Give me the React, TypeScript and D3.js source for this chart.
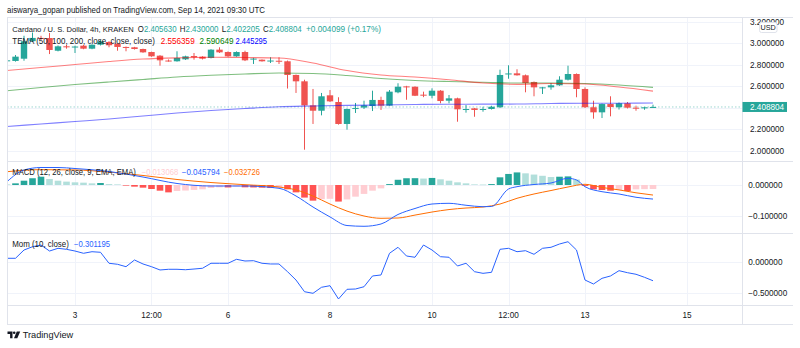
import React from 'react';
import * as d3 from 'd3';

// ---------- DATA ----------
const START_INDEX = -2; // first candle = Sep 1 16:00, index 0 = Sep 2 00:00 (4h candles)

const opens = [2.840, 2.836, 2.857, 3.020, 3.050, 3.049, 2.931, 2.972, 2.966, 2.978, 2.950, 2.987, 3.012, 2.997, 2.966, 2.963, 2.947, 2.919, 2.885, 2.840, 2.833, 2.851, 2.882, 2.876, 2.864, 2.941, 2.919, 2.879, 2.919, 2.855, 2.848, 2.837, 2.838, 2.833, 2.706, 2.647, 2.424, 2.374, 2.517, 2.455, 2.251, 2.396, 2.403, 2.418, 2.474, 2.421, 2.545, 2.600, 2.597, 2.523, 2.513, 2.560, 2.467, 2.489, 2.387, 2.396, 2.388, 2.390, 2.406, 2.715, 2.721, 2.703, 2.641, 2.588, 2.591, 2.610, 2.662, 2.715, 2.576, 2.406, 2.359, 2.436, 2.406, 2.443, 2.402, 2.396, 2.40563];
const highs = [2.910, 2.891, 3.070, 3.100, 3.070, 3.096, 2.980, 2.985, 2.978, 2.985, 2.990, 3.030, 3.020, 3.000, 2.970, 2.967, 2.950, 2.922, 2.890, 2.850, 2.926, 2.885, 2.910, 2.880, 2.945, 2.963, 2.925, 2.925, 2.931, 2.865, 2.850, 2.870, 2.870, 2.840, 2.710, 2.662, 2.576, 2.539, 2.566, 2.499, 2.395, 2.446, 2.467, 2.560, 2.504, 2.566, 2.629, 2.605, 2.600, 2.551, 2.582, 2.565, 2.520, 2.495, 2.427, 2.400, 2.411, 2.420, 2.755, 2.796, 2.759, 2.710, 2.645, 2.595, 2.631, 2.694, 2.792, 2.720, 2.591, 2.467, 2.440, 2.508, 2.450, 2.455, 2.421, 2.410, 2.43];
const lows = [2.835, 2.830, 2.838, 3.010, 3.030, 2.900, 2.925, 2.950, 2.910, 2.945, 2.945, 2.980, 2.963, 2.931, 2.926, 2.942, 2.912, 2.875, 2.792, 2.830, 2.830, 2.845, 2.848, 2.850, 2.860, 2.910, 2.875, 2.875, 2.835, 2.808, 2.830, 2.817, 2.808, 2.580, 2.539, 2.012, 2.251, 2.331, 2.455, 2.245, 2.198, 2.353, 2.390, 2.371, 2.381, 2.420, 2.536, 2.476, 2.510, 2.500, 2.489, 2.443, 2.443, 2.272, 2.356, 2.318, 2.365, 2.385, 2.400, 2.671, 2.700, 2.545, 2.508, 2.529, 2.569, 2.605, 2.655, 2.499, 2.400, 2.300, 2.306, 2.322, 2.385, 2.395, 2.374, 2.383, 2.402205];
const closes = [2.842, 2.876, 3.019, 3.050, 3.045, 2.938, 2.972, 2.963, 2.970, 2.950, 2.987, 3.018, 2.982, 2.966, 2.960, 2.947, 2.916, 2.879, 2.842, 2.836, 2.864, 2.879, 2.870, 2.857, 2.941, 2.916, 2.879, 2.919, 2.842, 2.858, 2.833, 2.840, 2.834, 2.706, 2.647, 2.424, 2.374, 2.508, 2.461, 2.251, 2.390, 2.399, 2.424, 2.474, 2.421, 2.551, 2.597, 2.597, 2.513, 2.518, 2.560, 2.464, 2.489, 2.387, 2.390, 2.381, 2.390, 2.411, 2.706, 2.720, 2.703, 2.631, 2.591, 2.591, 2.610, 2.662, 2.715, 2.576, 2.406, 2.359, 2.436, 2.408, 2.443, 2.402, 2.399, 2.406, 2.408804];

const temaIdx = [-2, 2, 6, 10, 14, 18, 22, 26, 30, 34, 38, 42, 46, 50, 54, 58, 62, 66, 70, 74];
const tema50 = [2.748, 2.775, 2.803, 2.831, 2.854, 2.865, 2.870, 2.868, 2.864, 2.817, 2.747, 2.706, 2.687, 2.662, 2.631, 2.619, 2.627, 2.622, 2.594, 2.556359];
const tema100 = [2.559, 2.590, 2.617, 2.641, 2.664, 2.687, 2.703, 2.715, 2.724, 2.720, 2.701, 2.673, 2.655, 2.645, 2.638, 2.631, 2.631, 2.627, 2.613, 2.590649];
const tema200 = [2.2275, 2.2507, 2.274, 2.297, 2.325, 2.353, 2.376, 2.395, 2.411, 2.418, 2.424, 2.427, 2.432, 2.434, 2.435, 2.436, 2.441, 2.443, 2.444, 2.445295];

const macdIdx = [-2, 0, 2, 4, 6, 10, 14, 18, 22, 26, 30, 32, 34, 36, 38, 40, 42, 44, 46, 48, 50, 52, 54, 55, 57, 58, 60, 62, 64, 65, 66, 68, 70, 72, 74];
const macdLine = [0.0108, 0.0489, 0.057, 0.057, 0.0537, 0.044, 0.026, 0.0049, -0.0033, -0.0033, -0.0107, -0.0358, -0.0717, -0.104, -0.132, -0.1345, -0.127, -0.096, -0.0765, -0.0619, -0.0596, -0.066, -0.0707, -0.070, -0.013, -0.0055, 0.0016, 0.0065, 0.0218, 0.0163, -0.0055, -0.0218, -0.0293, -0.040, -0.045794];
const signalIdx = [-2, 2, 6, 10, 14, 18, 22, 26, 30, 32, 34, 36, 38, 40, 42, 44, 46, 48, 50, 52, 54, 56, 58, 60, 62, 64, 66, 68, 70, 72, 74];
const signalLine = [0.0433, 0.050, 0.049, 0.042, 0.031, 0.018, 0.008, 0.001, -0.0065, -0.016, -0.036, -0.062, -0.085, -0.101, -0.1085, -0.1075, -0.098, -0.088, -0.080, -0.075, -0.0717, -0.062, -0.0433, -0.0293, -0.018, -0.0065, 0.0023, -0.008, -0.016, -0.0254, -0.032726];
const histValues = [0.002, 0.0054, 0.014, 0.022, 0.027, 0.0196, 0.014, 0.011, 0.0087, 0.0076, 0.0054, 0.0065, 0.003, 0.002, -0.001, -0.0054, -0.0087, -0.013, -0.0185, -0.024, -0.0196, -0.018, -0.016, -0.014, -0.0098, -0.0076, -0.008, -0.0054, -0.0076, -0.008, -0.0087, -0.0098, -0.009, -0.014, -0.024, -0.041, -0.051, -0.046, -0.045, -0.054, -0.047, -0.038, -0.029, -0.0185, -0.011, 0.003, 0.017, 0.022, 0.0222, 0.021, 0.023, 0.0185, 0.014, 0.0087, 0.0054, 0.002, 0.0015, 0.003, 0.025, 0.036, 0.041, 0.038, 0.034, 0.030, 0.026, 0.027, 0.028, 0.018, -0.003, -0.0142, -0.0163, -0.0185, -0.0163, -0.0196, -0.0142, -0.0135, -0.013068];
const momValues = [0.054, 0.054, 0.185, 0.237, 0.264, 0.169, 0.212, 0.196, 0.169, 0.133, 0.158, 0.149, -0.025, -0.041, -0.079, 0.027, -0.036, -0.079, -0.131, -0.120, -0.120, -0.127, -0.116, -0.104, -0.025, -0.025, -0.025, 0.038, 0.011, 0.016, -0.025, -0.036, -0.036, -0.158, -0.290, -0.475, -0.500, -0.405, -0.380, -0.590, -0.437, -0.432, -0.396, -0.226, -0.210, 0.133, 0.228, 0.090, 0.070, 0.264, 0.185, 0.079, 0.070, -0.068, -0.025, -0.158, -0.184, -0.168, 0.196, 0.212, 0.158, 0.174, 0.117, 0.212, 0.228, 0.280, 0.316, 0.185, -0.290, -0.353, -0.263, -0.226, -0.142, -0.174, -0.199, -0.247, -0.301195];

const timeTickIdx = [6, 15, 24, 36, 48, 57, 66, 78];
const timeTickLabels = ['3', '12:00', '6', '8', '10', '12:00', '13', '15'];
const priceTicks = [3.2, 3.0, 2.8, 2.6, 2.4, 2.2, 2.0];
const macdTicks = [0, -0.1];
const momTicks = [0, -0.5];
const lastPrice = 2.408804;

// ---------- LAYOUT ----------
const W = 800, H = 348;
const L = 7, R = 742.5, RIGHT_EDGE = 793;
const MAIN = { top: 17, bottom: 161.5 };
const MACDP = { top: 162, bottom: 233.5 };
const MOMP = { top: 234, bottom: 305.5 };
const AXIS_BOTTOM = 324.5;

const FONT = '"Liberation Sans", Arial, sans-serif';
const TXT = '#131722';
const GRID = '#f0f3fa';
const BORDER = '#e0e3eb';
const UP = '#26a69a';
const DOWN = '#ef5350';

const fmt6 = (v: number) => (v < 0 ? '\u2212' : '') + Math.abs(v).toFixed(6);

const Fit = ({ x, y, w, fill, size, children }: { x: number; y: number; w: number; fill: string; size?: number; children: React.ReactNode }) => (
  <text x={x} y={y} fill={fill} fontSize={size} textLength={w} lengthAdjust="spacingAndGlyphs">{children}</text>
);

export default function App() {
  const x = d3.scaleLinear().domain([-2, 78]).range([7, 687]);
  const yMain = d3.scaleLinear().domain([2.0, 3.0]).range([151, 43.3]);
  const yMacd = d3.scaleLinear().domain([-0.1, 0]).range([215.7, 185]);
  const yMom = d3.scaleLinear().domain([-0.5, 0]).range([293.3, 261.7]);

  const smooth = (idx: number[], vals: number[], y: d3.ScaleLinear<number, number>) =>
    d3.line<number>().x((_, k) => x(idx[k])).y((v) => y(v)).curve(d3.curveMonotoneX)(vals) || '';

  const momPath = d3.line<number>().x((_, k) => x(k + START_INDEX)).y((v) => yMom(v))(momValues) || '';

  const histColor = (k: number) => {
    const v = histValues[k];
    const prev = k > 0 ? histValues[k - 1] : v;
    if (v >= 0) return prev < v ? '#26A69A' : '#B2DFDB';
    return prev < v ? '#FFCDD2' : '#FF5252';
  };

  const vGrid = timeTickIdx.map((i) => Math.round(x(i)) + 0.5);

  return (
    <svg width={W} height={H} style={{ position: 'absolute', left: 0, top: 0, background: '#fff' }} fontFamily={FONT}>
      <defs>
        <clipPath id="cMain"><rect x={L} y={MAIN.top} width={R - L} height={MAIN.bottom - MAIN.top} /></clipPath>
        <clipPath id="cMacd"><rect x={L} y={MACDP.top} width={R - L} height={MACDP.bottom - MACDP.top} /></clipPath>
        <clipPath id="cMom"><rect x={L} y={MOMP.top} width={R - L} height={MOMP.bottom - MOMP.top} /></clipPath>
      </defs>
      <rect x={0} y={0} width={W} height={H} fill="#fff" />

      {/* title */}
      <text x={7} y={13} fontSize={8.4} fill={TXT} textLength={258} lengthAdjust="spacingAndGlyphs">aiswarya_gopan published on TradingView.com, Sep 14, 2021 09:30 UTC</text>

      {/* grid */}
      <g stroke={GRID} strokeWidth={1}>
        {vGrid.map((gx, k) => (
          <line key={'vg' + k} x1={gx} x2={gx} y1={MAIN.top} y2={MOMP.bottom} />
        ))}
        {priceTicks.map((p) => (
          <line key={'pg' + p} x1={L} x2={R} y1={Math.round(yMain(p)) + 0.5} y2={Math.round(yMain(p)) + 0.5} />
        ))}
        {macdTicks.map((p) => (
          <line key={'mg' + p} x1={L} x2={R} y1={Math.round(yMacd(p)) + 0.5} y2={Math.round(yMacd(p)) + 0.5} />
        ))}
        {momTicks.map((p) => (
          <line key={'og' + p} x1={L} x2={R} y1={Math.round(yMom(p)) + 0.5} y2={Math.round(yMom(p)) + 0.5} />
        ))}
      </g>

      {/* main pane */}
      <g clipPath="url(#cMain)">
        <line x1={L} x2={R} y1={yMain(lastPrice)} y2={yMain(lastPrice)} stroke={UP} strokeOpacity={0.45} strokeDasharray="1.5,2" />
        {opens.map((o, k) => {
          const i = k + START_INDEX;
          const c = closes[k];
          const col = c >= o ? UP : DOWN;
          const cx = x(i);
          const yo = yMain(o), yc = yMain(c);
          const top = Math.min(yo, yc);
          const h = Math.max(1, Math.abs(yo - yc));
          return (
            <g key={'c' + k}>
              <line x1={cx} x2={cx} y1={yMain(highs[k])} y2={yMain(lows[k])} stroke={col} strokeWidth={1} />
              <rect x={cx - 3.2} y={top} width={6.4} height={h} fill={col} />
            </g>
          );
        })}
        <path d={smooth(temaIdx, tema200, yMain)} fill="none" stroke="#0000FF" strokeOpacity={0.5} strokeWidth={1.1} />
        <path d={smooth(temaIdx, tema100, yMain)} fill="none" stroke="#008000" strokeOpacity={0.5} strokeWidth={1.1} />
        <path d={smooth(temaIdx, tema50, yMain)} fill="none" stroke="#FF0000" strokeOpacity={0.5} strokeWidth={1.1} />
      </g>

      {/* MACD pane */}
      <g clipPath="url(#cMacd)">
        {histValues.map((v, k) => {
          const i = k + START_INDEX;
          const y0 = yMacd(0), y1 = yMacd(v);
          return <rect key={'h' + k} x={x(i) - 3.3} y={Math.min(y0, y1)} width={6.6} height={Math.max(0.6, Math.abs(y1 - y0))} fill={histColor(k)} />;
        })}
        <path d={smooth(signalIdx, signalLine, yMacd)} fill="none" stroke="#FF6D00" strokeWidth={1} />
        <path d={smooth(macdIdx, macdLine, yMacd)} fill="none" stroke="#2962FF" strokeWidth={1} />
      </g>

      {/* Mom pane */}
      <g clipPath="url(#cMom)">
        <path d={momPath} fill="none" stroke="#2962FF" strokeWidth={1} />
      </g>

      {/* frame and separators */}
      <g stroke={BORDER} strokeWidth={1} fill="none">
        <line x1={L} x2={RIGHT_EDGE} y1={17.5} y2={17.5} />
        <line x1={L + 0.5} x2={L + 0.5} y1={17} y2={AXIS_BOTTOM} />
        <line x1={R} x2={R} y1={17} y2={AXIS_BOTTOM} />
        <line x1={L} x2={RIGHT_EDGE} y1={MAIN.bottom} y2={MAIN.bottom} />
        <line x1={L} x2={RIGHT_EDGE} y1={MACDP.bottom} y2={MACDP.bottom} />
        <line x1={L} x2={RIGHT_EDGE} y1={MOMP.bottom} y2={MOMP.bottom} />
        <line x1={L} x2={RIGHT_EDGE} y1={AXIS_BOTTOM} y2={AXIS_BOTTOM} />
      </g>

      {/* legends */}
      <g fontSize={8.2}>
        <Fit x={12.3} y={32} w={121.5} size={7.7} fill={TXT}>Cardano / U. S. Dollar, 4h, KRAKEN</Fit>
        <Fit x={137.8} y={32} w={38.7} fill={TXT}>O<tspan fill={UP}>2.405630</tspan></Fit>
        <Fit x={179.8} y={32} w={38.7} fill={TXT}>H<tspan fill={UP}>2.430000</tspan></Fit>
        <Fit x={221.8} y={32} w={38} fill={TXT}>L<tspan fill={UP}>2.402205</tspan></Fit>
        <Fit x={263} y={32} w={38.7} fill={TXT}>C<tspan fill={UP}>2.408804</tspan></Fit>
        <Fit x={306} y={32} w={75} fill={UP}>+0.004099 (+0.17%)</Fit>

        <Fit x={12.3} y={43.5} w={142.5} fill={TXT}>TEMA (50, 100, 200, close, close, close)</Fit>
        <Fit x={160.7} y={43.5} w={34} fill="#FF0000">{tema50[tema50.length - 1].toFixed(6)}</Fit>
        <Fit x={199.5} y={43.5} w={34} fill="#008000">{tema100[tema100.length - 1].toFixed(6)}</Fit>
        <Fit x={235.5} y={43.5} w={31.5} fill="#0000FF">{tema200[tema200.length - 1].toFixed(6)}</Fit>

        <Fit x={12.3} y={175.3} w={123.5} fill={TXT}>MACD (12, 26, close, 9, EMA, EMA)</Fit>
        <Fit x={141.7} y={175.3} w={36.5} fill="#FFCDD2">{fmt6(histValues[histValues.length - 1])}</Fit>
        <Fit x={181.7} y={175.3} w={38.3} fill="#2962FF">{fmt6(macdLine[macdLine.length - 1])}</Fit>
        <Fit x={224} y={175.3} w={36} fill="#FF6D00">{fmt6(signalLine[signalLine.length - 1])}</Fit>

        <Fit x={12.3} y={247.3} w={56.5} fill={TXT}>Mom (10, close)</Fit>
        <Fit x={74} y={247.3} w={36} fill="#2962FF">{fmt6(momValues[momValues.length - 1])}</Fit>
      </g>

      {/* price axis labels */}
      <g fontSize={8.2} fill={TXT}>
        {priceTicks.map((p) => (
          <text key={'pl' + p} x={750} y={yMain(p)} dy="0.35em">{p.toFixed(6)}</text>
        ))}
        {macdTicks.map((p) => (
          <text key={'ml' + p} x={748.3} y={yMacd(p)} dy="0.35em">{fmt6(p)}</text>
        ))}
        {momTicks.map((p) => (
          <text key={'ol' + p} x={748.3} y={yMom(p)} dy="0.35em">{fmt6(p)}</text>
        ))}
      </g>

      {/* USD badge */}
      <rect x={759.5} y={22.5} width={17.5} height={10} rx={2} fill="#fff" stroke={BORDER} />
      <text x={768.2} y={27.6} dy="0.35em" fontSize={7.2} fill={TXT} textAnchor="middle">USD</text>

      {/* last price badge */}
      <rect x={742.5} y={yMain(lastPrice) - 5} width={44.5} height={10} fill={UP} />
      <text x={750} y={yMain(lastPrice)} dy="0.35em" fontSize={8.2} fill="#fff">{lastPrice.toFixed(6)}</text>

      {/* time axis */}
      <g fontSize={8.2} fill={TXT} textAnchor="middle">
        {timeTickIdx.map((i, k) => (
          <text key={'t' + k} x={x(i)} y={315} dy="0.35em">{timeTickLabels[k]}</text>
        ))}
      </g>

      {/* TradingView logo */}
      <g fill={TXT}>
        <path d="M7.5,331.5 h5 v6.8 h-2.4 v-4.4 h-2.6 z" />
        <circle cx={14.2} cy={332.8} r={1.3} />
        <path d="M16.8,331.5 h3.4 l-2.9,6.8 h-3.3 z" />
        <text x={22.7} y={338.2} fontSize={9.2}>TradingView</text>
      </g>
    </svg>
  );
}
